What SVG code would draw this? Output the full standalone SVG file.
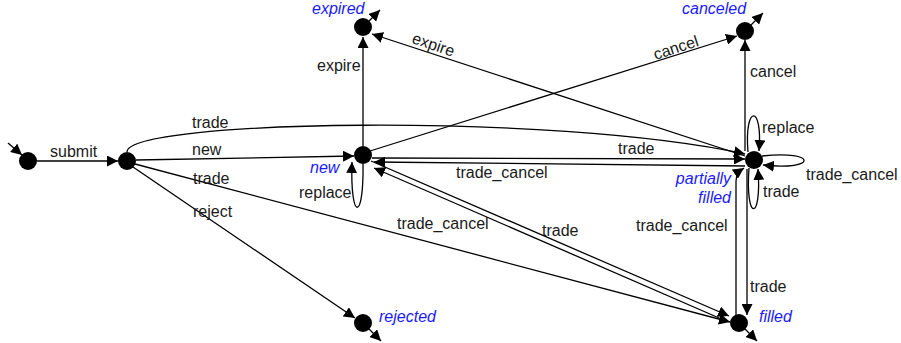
<svg xmlns="http://www.w3.org/2000/svg" width="901" height="343" viewBox="0 0 901 343">
  <defs>
    <marker id="arr" viewBox="0 0 10 10" refX="10" refY="5" markerWidth="11" markerHeight="11" markerUnits="userSpaceOnUse" orient="auto">
      <path d="M0,0 L10,5 L0,10 z" fill="#000"/>
    </marker>
    <style>
      .edge { fill: none; stroke: #000; stroke-width: 1.3; marker-end: url(#arr); }
      .dot { fill: #000; }
      .lbl { font-family: "Liberation Sans", Arial, sans-serif; font-size: 16px; fill: #1a1a1a; }
      .name { font-family: "Liberation Sans", Arial, sans-serif; font-size: 16px; font-style: italic; fill: #1a1aff; }
    </style>
  </defs>
  <rect width="901" height="343" fill="#fff"/>

  <!-- transitions -->
  <g id="connectors">
    <!-- initial pointer and terminal pointers -->
    <path class="edge" d="M8,143 L22,155"/>
    <path class="edge" d="M369,21 L380,10"/>
    <path class="edge" d="M751,25 L763,13"/>
    <path class="edge" d="M369,329 L381,341"/>
    <path class="edge" d="M745,329 L757,341"/>

    <path class="edge" d="M37,161 L118,161"/>
    <text class="lbl" x="50" y="157">submit</text>

    <path class="edge" d="M136,160 L354,156"/>
    <text class="lbl" x="192" y="155">new</text>

    <path class="edge" d="M127,152 C127,120 550,112 745,154"/>
    <text class="lbl" x="192" y="128">trade</text>

    <path class="edge" d="M135,164 L730,322"/>
    <text class="lbl" x="193" y="184">trade</text>

    <path class="edge" d="M133,167 L355,318"/>
    <text class="lbl" x="193" y="217">reject</text>

    <path class="edge" d="M363,146 L363,37"/>
    <text class="lbl" x="317" y="71">expire</text>

    <path class="edge" d="M370,151 L737,36"/>
    <text class="lbl" text-anchor="middle" x="0" y="5" transform="translate(676,48) rotate(-18)">cancel</text>

    <path class="edge" d="M745,156 L372,34"/>
    <text class="lbl" text-anchor="middle" x="0" y="4" transform="translate(433,46) rotate(19)">expire</text>

    <path class="edge" d="M363,164 C364,222 350,222 352,162"/>
    <text class="lbl" x="299" y="198">replace</text>

    <path class="edge" d="M372,158 L745,159"/>
    <text class="lbl" x="618" y="154">trade</text>

    <path class="edge" d="M745,166 L374,162"/>
    <text class="lbl" x="456" y="178">trade_cancel</text>

    <path class="edge" d="M371,161 L729,316"/>
    <text class="lbl" x="542" y="236">trade</text>

    <path class="edge" d="M726,321 L374,168"/>
    <text class="lbl" x="397" y="229">trade_cancel</text>

    <path class="edge" d="M745,151 L745,40"/>
    <text class="lbl" x="750" y="77">cancel</text>

    <path class="edge" d="M748,152 C744,104 763,104 759,151"/>
    <text class="lbl" x="762" y="133">replace</text>

    <path class="edge" d="M762,156 C818,150 818,171 763,165"/>
    <text class="lbl" x="806" y="180">trade_cancel</text>

    <path class="edge" d="M749,168 C745,222 762,222 758,169"/>
    <text class="lbl" x="763" y="197">trade</text>

    <path class="edge" d="M747,169 L747,315"/>
    <text class="lbl" x="750" y="292">trade</text>

    <path class="edge" d="M736,315 L736,181 C736,176 738,172 744,168"/>
    <text class="lbl" x="636" y="231">trade_cancel</text>
  </g>

  <!-- states -->
  <g id="start">
    <circle class="dot" cx="28" cy="161" r="9"/>
  </g>
  <g id="submitted">
    <circle class="dot" cx="127" cy="161" r="9"/>
  </g>
  <g id="new">
    <circle class="dot" cx="363" cy="155" r="9"/>
    <text class="name" x="310" y="173">new</text>
  </g>
  <g id="expired">
    <circle class="dot" cx="363" cy="27" r="9"/>
    <text class="name" x="312" y="14">expired</text>
  </g>
  <g id="canceled">
    <circle class="dot" cx="745" cy="31" r="9"/>
    <text class="name" x="682" y="14">canceled</text>
  </g>
  <g id="partially_filled">
    <circle class="dot" cx="754" cy="160" r="9"/>
    <text class="name" text-anchor="end" x="731" y="184">partially</text>
    <text class="name" text-anchor="end" x="731" y="203">filled</text>
  </g>
  <g id="filled">
    <circle class="dot" cx="739" cy="323" r="9"/>
    <text class="name" x="759" y="322">filled</text>
  </g>
  <g id="rejected">
    <circle class="dot" cx="363" cy="323" r="9"/>
    <text class="name" x="379" y="322">rejected</text>
  </g>
</svg>
